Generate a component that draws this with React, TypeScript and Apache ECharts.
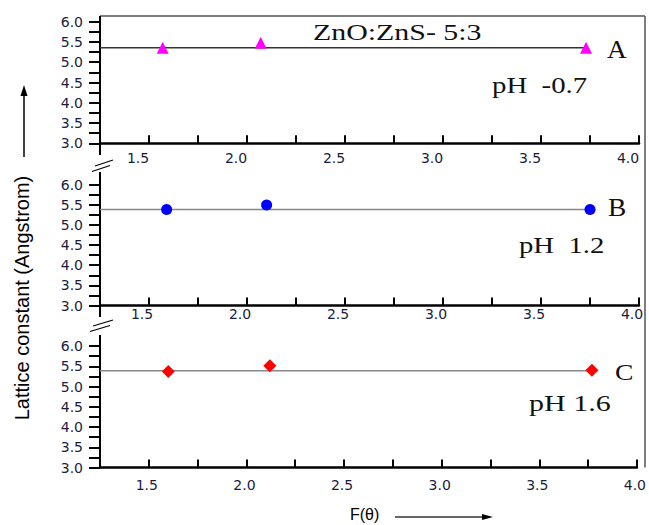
import React, { useEffect, useRef } from "react";
import * as echarts from "echarts";

// ---- data ----
const X_MIN = 1.25;
const X_MAX = 4.0;
const Y_MIN = 3.0;
const Y_MAX = 6.0;

const fThetaA = [1.57, 2.07, 3.73];
const latticeA = [5.36, 5.48, 5.36];
const fitA = 5.36;

const fThetaB = [1.59, 2.1, 3.75];
const latticeB = [5.38, 5.49, 5.38];
const fitB = 5.38;

const fThetaC = [1.6, 2.12, 3.77];
const latticeC = [5.37, 5.51, 5.4];
const fitC = 5.39;

const panelTitles = ["A", "B", "C"];
const phLabels = ["pH  -0.7", "pH  1.2", "pH 1.6"];
const compositionLabel = "ZnO:ZnS- 5:3";
const yTitle = "Lattice constant (Angstrom)";
const xTitle = "F(θ)";

// ---- layout ----
const LEFT = 100;
const PLOT_W = 539;
const grids = [
  { top: 21.7, height: 121.6 },
  { top: 184.5, height: 121 },
  { top: 346, height: 121.5 },
];
const xLabelMargin = [8, 1, 10];
const xLabelPad = [22, 14, 4];

const AXIS_FONT = "DejaVu Sans";
const SERIF = "Liberation Serif, Times New Roman, serif";

const halfStep = (v: number) => Math.abs(v * 2 - Math.round(v * 2)) < 1e-6;

export default function App() {
  const ref = useRef<HTMLDivElement>(null);

  useEffect(() => {
    if (!ref.current) return;
    const chart = echarts.init(ref.current, undefined, { renderer: "svg" });

    const xAxes = grids.map((_, i) => ({
      type: "value",
      gridIndex: i,
      min: X_MIN,
      max: X_MAX,
      interval: 0.25,
      axisLine: { onZero: false, lineStyle: { color: "#000", width: 2.5 } },
      axisTick: { inside: true, length: 8, lineStyle: { color: "#000", width: 2 } },
      splitLine: { show: false },
      axisLabel: {
        margin: xLabelMargin[i],
        fontSize: 14,
        fontFamily: AXIS_FONT,
        color: "#1c1c3c",
        padding: [0, xLabelPad[i], 0, 0],
        formatter: (v: number) => (halfStep(v) ? v.toFixed(1) : ""),
      },
    }));

    const yAxes = grids.map((_, i) => ({
      type: "value",
      gridIndex: i,
      min: Y_MIN,
      max: Y_MAX,
      interval: 0.25,
      axisLine: { onZero: false, lineStyle: { color: "#000", width: 2 } },
      axisTick: { inside: false, length: 11, lineStyle: { color: "#000", width: 2 } },
      splitLine: { show: false },
      axisLabel: {
        margin: 17,
        fontSize: 14,
        fontFamily: AXIS_FONT,
        color: "#1c1c3c",
        formatter: (v: number) => (halfStep(v) ? v.toFixed(1) : ""),
      },
    }));

    const panels = [
      { xs: fThetaA, ys: latticeA, fit: fitA, color: "#ff00ff", symbol: "triangle", size: 12, lineColor: "#333" },
      { xs: fThetaB, ys: latticeB, fit: fitB, color: "#0000ff", symbol: "circle", size: 11, lineColor: "#888" },
      { xs: fThetaC, ys: latticeC, fit: fitC, color: "#ff0000", symbol: "diamond", size: 13, lineColor: "#888" },
    ];

    const series: any[] = [];
    panels.forEach((p, i) => {
      series.push({
        type: "line",
        xAxisIndex: i,
        yAxisIndex: i,
        data: [
          [X_MIN, p.fit],
          [p.xs[p.xs.length - 1], p.fit],
        ],
        symbol: "none",
        lineStyle: { color: p.lineColor, width: 1.5 },
        z: 2,
      });
      series.push({
        type: "scatter",
        xAxisIndex: i,
        yAxisIndex: i,
        data: p.xs.map((x, k) => [x, p.ys[k]]),
        symbol: p.symbol,
        symbolSize: p.size,
        itemStyle: { color: p.color, opacity: 1 },
        z: 3,
      });
    });

    const blk = { stroke: "#000", lineWidth: 2 };
    const gray = { stroke: "#555", lineWidth: 1.5 };
    const line = (x1: number, y1: number, x2: number, y2: number, style: any) => ({
      type: "line",
      shape: { x1, y1, x2, y2 },
      style,
      silent: true,
    });
    const text = (t: string, x: number, y: number, size: number, sx: number, font = SERIF) => ({
      type: "text",
      x,
      y,
      scaleX: sx,
      style: { text: t, fontSize: size, fontFamily: font, fill: "#111", align: "left", verticalAlign: "middle" },
      silent: true,
    });

    const g0b = grids[0].top + grids[0].height;
    const g1b = grids[1].top + grids[1].height;
    const g2b = grids[2].top + grids[2].height;

    const graphic: any[] = [
      // frame
      line(LEFT, 16, 645, 16, gray),
      line(645, 16, 645, g2b, gray),
      // left axis extensions
      line(LEFT, 16, LEFT, grids[0].top, blk),
      line(LEFT, g0b, LEFT, 155, blk),
      line(LEFT, 172, LEFT, grids[1].top, blk),
      line(LEFT, g1b, LEFT, 317, blk),
      line(LEFT, 335, LEFT, grids[2].top, blk),
      // break marks
      line(95, 166, 113, 160, { stroke: "#000", lineWidth: 1.3 }),
      line(92, 171.5, 110, 165.5, { stroke: "#000", lineWidth: 1.3 }),
      line(93, 326, 113, 320, { stroke: "#000", lineWidth: 1.3 }),
      line(90, 331.5, 110, 325.5, { stroke: "#000", lineWidth: 1.3 }),
      // annotations
      text(compositionLabel, 313, 32, 23, 1.3),
      text(panelTitles[0], 607, 49, 26, 1.05),
      text(phLabels[0], 492, 85, 24, 1.2),
      text(panelTitles[1], 608, 207.5, 25, 1.1),
      text(phLabels[1], 519, 245, 23, 1.25),
      text(panelTitles[2], 615, 372, 23, 1.2),
      text(phLabels[2], 529, 403, 24, 1.25),
      // y title + arrow
      {
        type: "text",
        x: 22,
        y: 298,
        rotation: Math.PI / 2,
        style: {
          text: yTitle,
          fontSize: 20,
          fontFamily: "Liberation Sans, Arial, sans-serif",
          fill: "#000",
          align: "center",
          verticalAlign: "middle",
        },
        silent: true,
      },
      line(24, 157, 24, 93, { stroke: "#000", lineWidth: 1.5 }),
      { type: "polygon", shape: { points: [[24, 85], [20.5, 96], [27.5, 96]] }, style: { fill: "#000" }, silent: true },
      // x title + arrow
      {
        type: "text",
        x: 350,
        y: 514,
        style: {
          text: xTitle,
          fontSize: 16,
          fontFamily: "Liberation Sans, Arial, sans-serif",
          fill: "#000",
          align: "left",
          verticalAlign: "middle",
        },
        silent: true,
      },
      line(395, 517, 484, 517, { stroke: "#333", lineWidth: 1.5 }),
      { type: "polygon", shape: { points: [[493, 517], [482, 514], [482, 520]] }, style: { fill: "#000" }, silent: true },
    ];

    chart.setOption({
      animation: false,
      backgroundColor: "#fff",
      grid: grids.map((g) => ({ left: LEFT, width: PLOT_W, top: g.top, height: g.height, containLabel: false })),
      xAxis: xAxes,
      yAxis: yAxes,
      series,
      graphic,
    } as any);

    return () => chart.dispose();
  }, []);

  return <div ref={ref} style={{ position: "absolute", left: 0, top: 0, width: 649, height: 525 }} />;
}
